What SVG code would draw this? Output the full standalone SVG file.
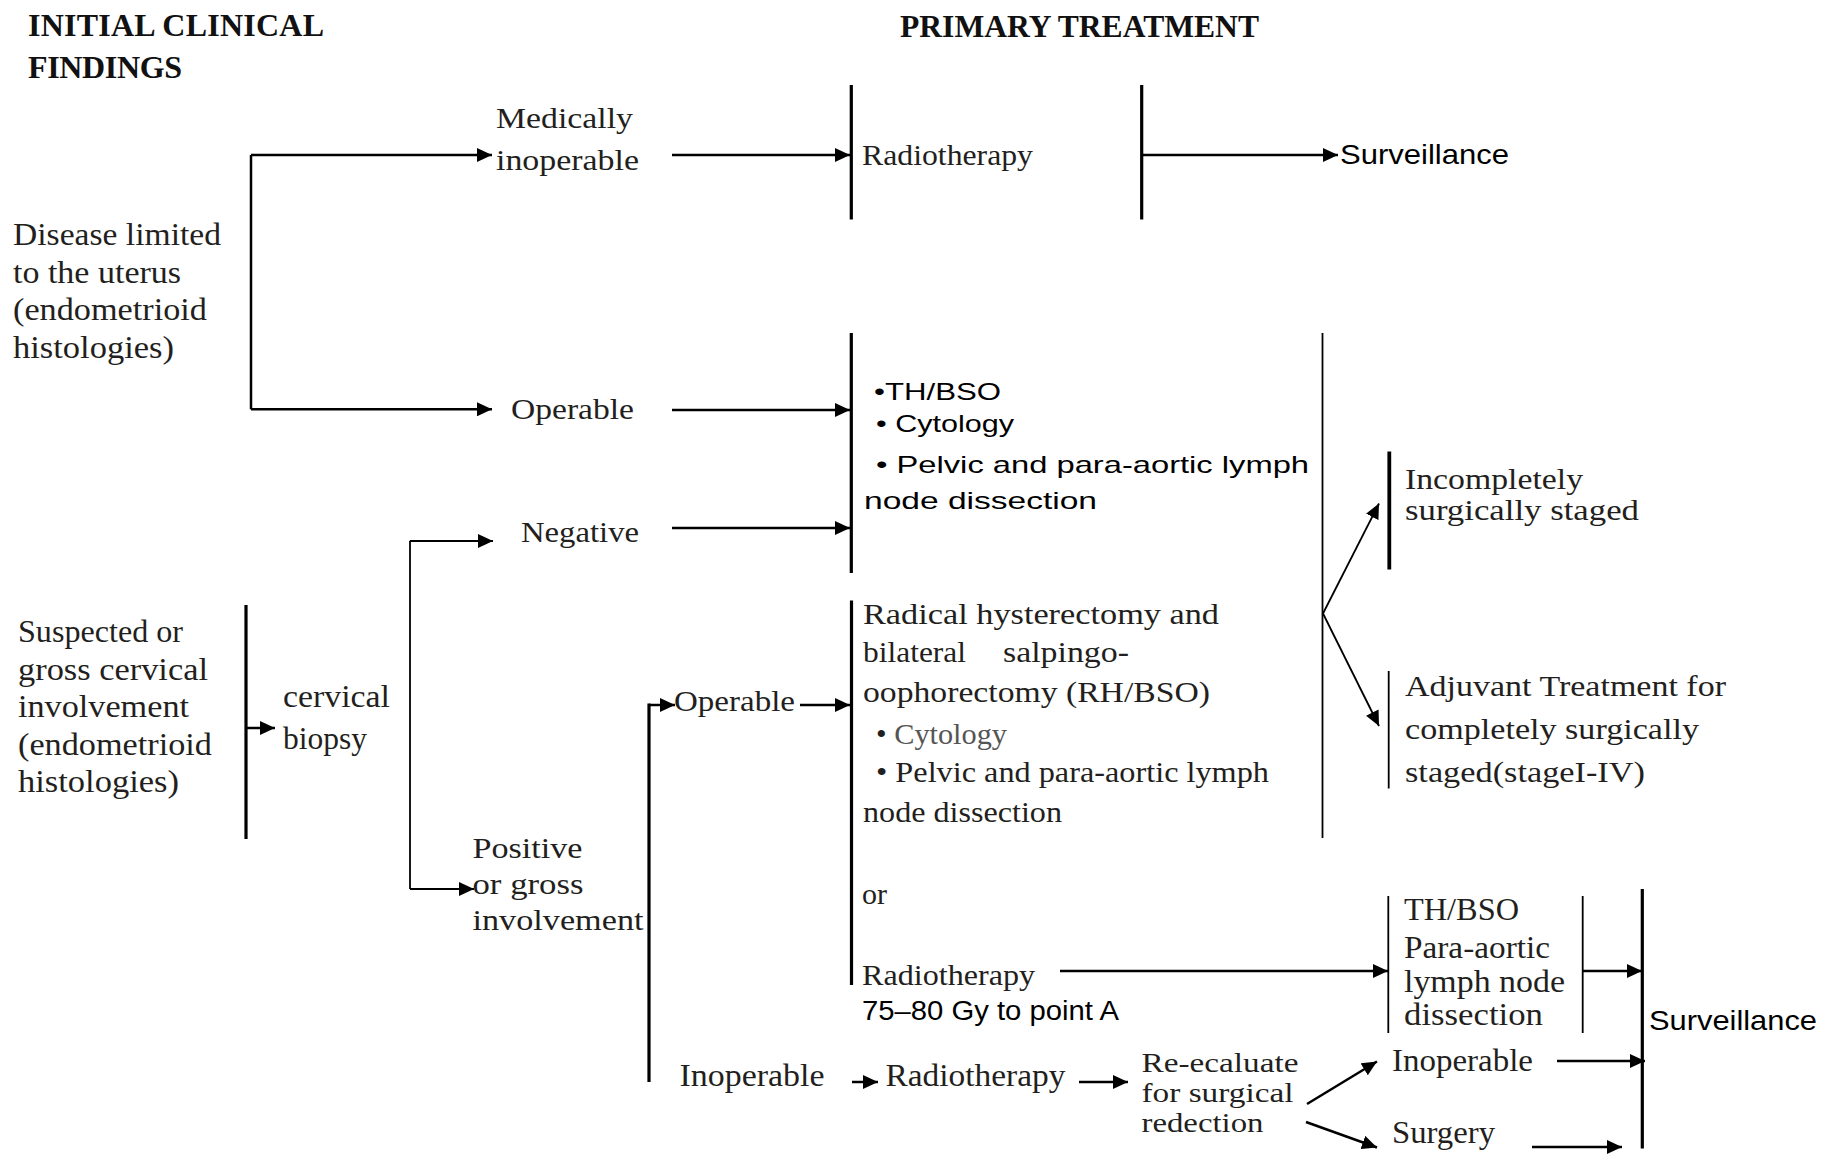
<svg xmlns="http://www.w3.org/2000/svg" width="1824" height="1154" viewBox="0 0 1824 1154">
<style>
text{fill:#231f20}
.s{font-family:"Liberation Serif","Times New Roman",serif;font-size:30px}
.l{font-size:31px}
.r{font-size:27px}
.b{font-family:"Liberation Serif","Times New Roman",serif;font-size:32px;font-weight:bold;fill:#111}
.a{font-family:"Liberation Sans",Arial,sans-serif;font-size:28px;fill:#000}
.a2{font-family:"Liberation Sans",Arial,sans-serif;font-size:24px;fill:#000}
.g{fill:#555}
.ln{stroke:#000;fill:none;stroke-width:2.5}
.th{stroke-width:3.2}
.tn{stroke-width:1.8}
</style>
<defs>
<marker id="ah" markerUnits="userSpaceOnUse" markerWidth="15" markerHeight="14" refX="15" refY="7" orient="auto">
<path d="M0,0 L15,7 L0,14 z" fill="#000"/>
</marker>
</defs>
<rect width="1824" height="1154" fill="#fff"/>

<g id="headers">
<text class="b" x="28" y="36" textLength="296">INITIAL CLINICAL</text>
<text class="b" x="28" y="78" textLength="154">FINDINGS</text>
<text class="b" x="900" y="37" textLength="359" lengthAdjust="spacingAndGlyphs">PRIMARY TREATMENT</text>
</g>

<g id="n-disease-limited">
<text class="s l" x="13" y="245" textLength="208" lengthAdjust="spacingAndGlyphs">Disease limited</text>
<text class="s l" x="13" y="283" textLength="168" lengthAdjust="spacingAndGlyphs">to the uterus</text>
<text class="s l" x="13" y="320" textLength="194" lengthAdjust="spacingAndGlyphs">(endometrioid</text>
<text class="s l" x="13" y="358" textLength="161" lengthAdjust="spacingAndGlyphs">histologies)</text>
</g>
<g id="n-medically-inoperable">
<text class="s" x="496" y="128" textLength="137" lengthAdjust="spacingAndGlyphs">Medically</text>
<text class="s" x="496" y="170" textLength="143" lengthAdjust="spacingAndGlyphs">inoperable</text>
</g>
<g id="n-radiotherapy-top">
<text class="s" x="862" y="165" textLength="171" lengthAdjust="spacingAndGlyphs">Radiotherapy</text>
</g>
<g id="n-surveillance-top">
<text class="a" x="1340" y="164" textLength="169" lengthAdjust="spacingAndGlyphs">Surveillance</text>
</g>
<g id="n-operable-1">
<text class="s" x="511" y="419" textLength="123" lengthAdjust="spacingAndGlyphs">Operable</text>
</g>
<g id="n-negative">
<text class="s" x="521" y="541.5" textLength="118" lengthAdjust="spacingAndGlyphs">Negative</text>
</g>
<g id="n-thbso-box">
<text class="a2" x="874" y="399.5" textLength="127" lengthAdjust="spacingAndGlyphs">•TH/BSO</text>
<text class="a2" x="876" y="432" textLength="138" lengthAdjust="spacingAndGlyphs">• Cytology</text>
<text class="a2" x="876" y="473" textLength="433" lengthAdjust="spacingAndGlyphs">• Pelvic  and para-aortic lymph</text>
<text class="a2" x="864" y="508.5" textLength="233" lengthAdjust="spacingAndGlyphs">node dissection</text>
</g>
<g id="n-incompletely">
<text class="s" x="1405" y="488.5" textLength="178" lengthAdjust="spacingAndGlyphs">Incompletely</text>
<text class="s" x="1405" y="520" textLength="234" lengthAdjust="spacingAndGlyphs">surgically staged</text>
</g>
<g id="n-adjuvant">
<text class="s" x="1405" y="696" textLength="321" lengthAdjust="spacingAndGlyphs">Adjuvant Treatment  for</text>
<text class="s" x="1405" y="738.5" textLength="294" lengthAdjust="spacingAndGlyphs">completely surgically</text>
<text class="s" x="1405" y="782" textLength="240" lengthAdjust="spacingAndGlyphs">staged(stageI-IV)</text>
</g>
<g id="n-suspected">
<text class="s l" x="18" y="642" textLength="165" lengthAdjust="spacingAndGlyphs">Suspected or</text>
<text class="s l" x="18" y="680" textLength="190" lengthAdjust="spacingAndGlyphs">gross  cervical</text>
<text class="s l" x="18" y="717" textLength="171" lengthAdjust="spacingAndGlyphs">involvement</text>
<text class="s l" x="18" y="755" textLength="194" lengthAdjust="spacingAndGlyphs">(endometrioid</text>
<text class="s l" x="18" y="792" textLength="161" lengthAdjust="spacingAndGlyphs">histologies)</text>
</g>
<g id="n-cervical-biopsy">
<text class="s l" x="283" y="706.5" textLength="107" lengthAdjust="spacingAndGlyphs">cervical</text>
<text class="s l" x="283" y="748.5" textLength="84" lengthAdjust="spacingAndGlyphs">biopsy</text>
</g>
<g id="n-positive">
<text class="s" x="472.5" y="857.5" textLength="110" lengthAdjust="spacingAndGlyphs">Positive</text>
<text class="s" x="472.5" y="893.5" textLength="111" lengthAdjust="spacingAndGlyphs">or gross</text>
<text class="s" x="472.5" y="929.5" textLength="171" lengthAdjust="spacingAndGlyphs">involvement</text>
</g>
<g id="n-operable-2">
<text class="s" x="674" y="710.5" textLength="121" lengthAdjust="spacingAndGlyphs">Operable</text>
</g>
<g id="n-rhbso-box">
<text class="s" x="863" y="623.5" textLength="356" lengthAdjust="spacingAndGlyphs">Radical hysterectomy and</text>
<text class="s" x="863" y="662" textLength="103" lengthAdjust="spacingAndGlyphs">bilateral</text>
<text class="s" x="1003" y="662" textLength="126" lengthAdjust="spacingAndGlyphs">salpingo-</text>
<text class="s" x="863" y="702" textLength="347" lengthAdjust="spacingAndGlyphs">oophorectomy (RH/BSO)</text>
<text class="s" x="876" y="743.5" textLength="131" lengthAdjust="spacingAndGlyphs"><tspan>•</tspan><tspan class="g"> Cytology</tspan></text>
<text class="s" x="876" y="782" textLength="393" lengthAdjust="spacingAndGlyphs">• Pelvic and para-aortic lymph</text>
<text class="s" x="863" y="822" textLength="199" lengthAdjust="spacingAndGlyphs">node dissection</text>
<text class="s" x="862" y="903.5">or</text>
<text class="s" x="862" y="984.5" textLength="173" lengthAdjust="spacingAndGlyphs">Radiotherapy</text>
<text class="a" x="862" y="1019.5" textLength="257" lengthAdjust="spacingAndGlyphs" style="font-size:27px">75–80 Gy to point A</text>
</g>
<g id="n-thbso-para">
<text class="s l" x="1404" y="920" textLength="115" lengthAdjust="spacingAndGlyphs">TH/BSO</text>
<text class="s l" x="1404" y="957.5" textLength="146" lengthAdjust="spacingAndGlyphs">Para-aortic</text>
<text class="s l" x="1404" y="992" textLength="161" lengthAdjust="spacingAndGlyphs">lymph  node</text>
<text class="s l" x="1404" y="1025" textLength="139" lengthAdjust="spacingAndGlyphs">dissection</text>
</g>
<g id="n-surveillance-bottom">
<text class="a" x="1649" y="1029.5" textLength="168" lengthAdjust="spacingAndGlyphs">Surveillance</text>
</g>
<g id="n-inoperable-2">
<text class="s l" x="679.5" y="1086" textLength="145" lengthAdjust="spacingAndGlyphs">Inoperable</text>
</g>
<g id="n-radiotherapy-bottom">
<text class="s l" x="885.5" y="1086" textLength="180" lengthAdjust="spacingAndGlyphs">Radiotherapy</text>
</g>
<g id="n-reevaluate">
<text class="s r" x="1141.5" y="1071.5" textLength="157" lengthAdjust="spacingAndGlyphs">Re-ecaluate</text>
<text class="s r" x="1141.5" y="1101.5" textLength="152" lengthAdjust="spacingAndGlyphs">for surgical</text>
<text class="s r" x="1141.5" y="1131.5" textLength="122" lengthAdjust="spacingAndGlyphs">redection</text>
</g>
<g id="n-inoperable-3">
<text class="s l" x="1392" y="1070.5" textLength="141" lengthAdjust="spacingAndGlyphs">Inoperable</text>
</g>
<g id="n-surgery">
<text class="s l" x="1392" y="1143" textLength="103" lengthAdjust="spacingAndGlyphs">Surgery</text>
</g>

<g id="connectors">
<path class="ln th" d="M851.3,85 V219.5 M1141.7,85 V219.5 M851.3,333 V573 M246,605 V839 M649,703.5 V1082 M851.5,600.5 V985 M1642.3,889 V1148.5"/>
<path class="ln tn" d="M1322.5,333 V838 M1388.7,671 V788.5 M1388.3,896 V1033 M1582.7,896 V1033"/>
<path class="ln" style="stroke-width:3.8" d="M1389.3,451.5 V569.5"/>
<path class="ln" d="M251,155 V409.3"/>
<path class="ln tn" d="M410,540.7 V889"/>
<g marker-end="url(#ah)">
<path class="ln" d="M251,155 H492"/>
<path class="ln" d="M251,409.3 H492"/>
<path class="ln" d="M672,155 H850"/>
<path class="ln" d="M1141.7,155 H1338"/>
<path class="ln" d="M672,410 H850"/>
<path class="ln" d="M672,528 H850"/>
<path class="ln tn" d="M1323,613.5 L1379,503.5"/>
<path class="ln tn" d="M1323,613.5 L1379,726"/>
<path class="ln" d="M246,728 H275"/>
<path class="ln tn" d="M410,541 H493"/>
<path class="ln tn" d="M410,889 H474"/>
<path class="ln" d="M649,705 H675"/>
<path class="ln" d="M800,705 H850"/>
<path class="ln" d="M1060,971 H1388"/>
<path class="ln" d="M1583,971 H1642"/>
<path class="ln" d="M1557,1061 H1645"/>
<path class="ln" d="M1532,1147 H1622"/>
<path class="ln" d="M852,1082 H878"/>
<path class="ln" d="M1079,1082 H1128"/>
<path class="ln" d="M1307,1104 L1377,1061.5"/>
<path class="ln" d="M1306,1122 L1377,1147.5"/>
</g>
</g>
</svg>
